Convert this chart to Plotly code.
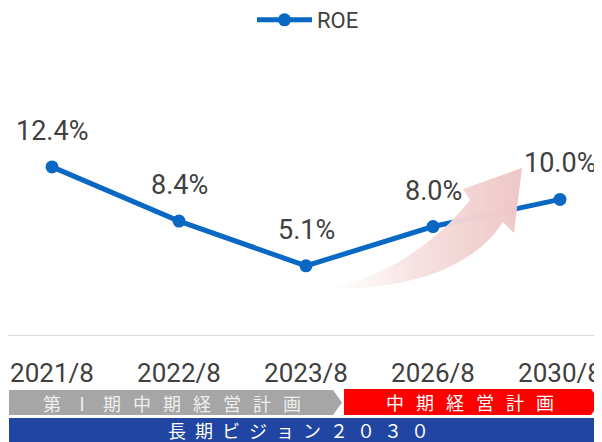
import plotly.graph_objects as go

# ---- data ----
periods = ["2021/8", "2022/8", "2023/8", "2026/8", "2030/8"]
roe = [12.4, 8.4, 5.1, 8.0, 10.0]
roe_labels = ["12.4%", "8.4%", "5.1%", "8.0%", "10.0%"]
series_name = "ROE"
GAP = "\u2002\u2006"
plan1_label = GAP.join("第Ⅰ期中期経営計画")
plan2_label = GAP.join("中期経営計画")
vision_label = "\u2002".join("長期ビジョン２０３０")

# the page body adds an 8px offset; the figure fills the rest of the window
OFF = 8
W, H = 602 - OFF, 442 - OFF
REF_TOP, REF_BOTTOM = 45, 335          # plot area in window pixels
MT = REF_TOP - OFF
MB = 442 - REF_BOTTOM
PLOT_H = REF_BOTTOM - REF_TOP

FONT = "Roboto, sans-serif"
JP = "Noto Sans CJK JP, sans-serif"
TXT = "#404040"
BLUE = "#0868c4"


def px(x):
    return (x - OFF) / W


def py(y):
    return (REF_BOTTOM - y) / PLOT_H


def path(points):
    return "M " + " L ".join(f"{px(x):.5f},{py(y):.5f}" for x, y in points) + " Z"


def bez(p0, p1, p2, p3, n=24):
    pts = []
    for i in range(n + 1):
        t = i / n
        a = (1 - t) ** 3
        b = 3 * (1 - t) ** 2 * t
        c = 3 * (1 - t) * t ** 2
        d = t ** 3
        pts.append((a * p0[0] + b * p1[0] + c * p2[0] + d * p3[0],
                    a * p0[1] + b * p1[1] + c * p2[1] + d * p3[1]))
    return pts


fig = go.Figure()
fig.add_trace(go.Scatter(
    x=periods, y=roe, name=series_name, mode="lines+markers",
    line=dict(color=BLUE, width=5),
    marker=dict(color=BLUE, size=13),
    showlegend=True,
))

# decorative swoosh arrow drawn in a pixel-space overlay
upper = bez((326, 289), (380, 278), (430, 250), (470, 200))
head = [(463, 189), (522, 168), (514, 233), (503, 222)]
lower = bez((503, 222), (478, 262), (420, 290), (326, 289))
outline = upper + head + lower
fig.add_trace(go.Scatter(
    x=[p[0] for p in outline], y=[p[1] for p in outline],
    xaxis="x2", yaxis="y2", mode="lines", line=dict(width=0),
    fill="toself",
    fillgradient=dict(type="horizontal", start=326, stop=522,
                      colorscale=[[0, "rgba(255,255,255,0.5)"],
                                  [0.45, "rgba(246,224,224,0.95)"],
                                  [1, "rgba(238,198,198,1)"]]),
    hoverinfo="skip", showlegend=False,
))

annotations = []
for p, v, t in zip(periods, roe, roe_labels):
    annotations.append(dict(x=p, y=v, text=t, showarrow=False, yshift=36,
                            xanchor="center", yanchor="middle",
                            font=dict(family=FONT, size=27, color=TXT)))

# banners
shapes = [
    dict(type="path", xref="paper", yref="paper", layer="above",
         path=path([(9, 390), (333, 390), (342, 402.5), (333, 415), (9, 415)]),
         fillcolor="#a6a6a6", line=dict(width=0)),
    dict(type="path", xref="paper", yref="paper", layer="above",
         path=path([(344, 389), (591, 389), (601, 402), (591, 415), (344, 415)]),
         fillcolor="#fe0000", line=dict(width=0)),
    dict(type="path", xref="paper", yref="paper", layer="above",
         path=path([(9, 418), (597, 418), (610, 432), (597, 446), (9, 446)]),
         fillcolor="#2045a2", line=dict(width=0)),
]
annotations += [
    dict(xref="paper", yref="paper", x=px(172), y=py(402.5), text=plan1_label,
         xanchor="center", yanchor="middle",
         showarrow=False, font=dict(family=JP, size=18, color="#eeeeee")),
    dict(xref="paper", yref="paper", x=px(470), y=py(402), text=plan2_label,
         xanchor="center", yanchor="middle",
         showarrow=False, font=dict(family=JP, size=18, color="#ffffff")),
    dict(xref="paper", yref="paper", x=px(298), y=py(430), text=vision_label,
         xanchor="center", yanchor="middle",
         showarrow=False, font=dict(family=JP, size=18, color="#ffffff")),
]

fig.update_layout(
    width=W, height=H,
    margin=dict(l=0, r=0, t=MT, b=MB, pad=0, autoexpand=False),
    paper_bgcolor="white", plot_bgcolor="white",
    xaxis=dict(range=[-(52 - OFF) / 127, -(52 - OFF) / 127 + W / 127],
               showgrid=False, zeroline=False,
               showline=True, linecolor="#d9d9d9", linewidth=1,
               ticks="", ticklabelstandoff=15, automargin=False,
               tickfont=dict(family=FONT, size=26, color=TXT)),
    yaxis=dict(range=[0, 21.39], visible=False, showgrid=False, zeroline=False,
               automargin=False),
    xaxis2=dict(overlaying="x", range=[OFF, 602], visible=False, automargin=False),
    yaxis2=dict(overlaying="y", range=[REF_BOTTOM, REF_TOP], visible=False, automargin=False),
    legend=dict(orientation="h", x=px(252), xanchor="left", y=py(20), yanchor="middle",
                font=dict(family=FONT, size=22, color=TXT), itemwidth=55,
                bgcolor="rgba(0,0,0,0)"),
    shapes=shapes,
    annotations=annotations,
    showlegend=True,
)

fig.write_html("out.html")
